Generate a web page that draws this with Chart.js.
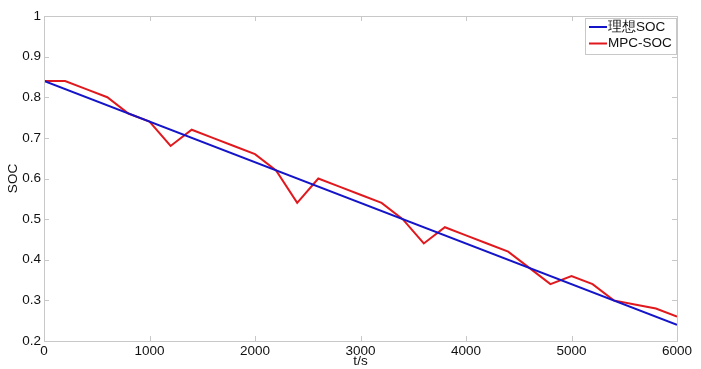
<!DOCTYPE html>
<html>
<head>
<meta charset="utf-8">
<script src="https://cdn.jsdelivr.net/npm/chart.js@4"></script>
<style>
  html, body { margin: 0; padding: 0; background: #fff; }
  #wrap { width: 701px; height: 369px; }
</style>
</head>
<body>
<div id="wrap"><canvas id="socChart" width="701" height="369"></canvas></div>
<script>
// time axis (s)
const idealTime = [0, 6000];
const idealSoc = [0.84, 0.24];

const mpcTime = [0, 200, 400, 600, 800, 1000, 1200, 1400, 1600, 1800, 2000,
    2200, 2400, 2600, 2800, 3000, 3200, 3400, 3600, 3800, 4000,
    4200, 4400, 4600, 4800, 5000, 5200, 5400, 5600, 5800, 6000];
const mpcSoc = [0.84, 0.84, 0.82, 0.80, 0.76, 0.74, 0.68, 0.72, 0.70, 0.68, 0.66,
    0.62, 0.54, 0.60, 0.58, 0.56, 0.54, 0.50, 0.44, 0.48, 0.46,
    0.44, 0.42, 0.38, 0.34, 0.36, 0.34, 0.30, 0.29, 0.28, 0.26];

const seriesLabels = ['理想SOC', 'MPC-SOC'];
const FONT = 'Liberation Sans, Arial, sans-serif';
const FSIZE = 13.5;

const toPoints = (xs, ys) => xs.map((x, i) => ({ x: x, y: ys[i] }));

// MATLAB style box with inward tick marks, plus a boxed legend
const boxPlugin = {
    id: 'box',
    afterDatasetsDraw(chart) {
        const c = chart.ctx;
        const a = chart.chartArea;
        const xs = chart.scales.x, ys = chart.scales.y;
        c.save();
        c.strokeStyle = '#c8c8c8';
        c.lineWidth = 1;
        c.strokeRect(a.left + 0.5, a.top + 0.5, a.right - a.left, a.bottom - a.top);
        c.beginPath();
        xs.ticks.forEach(t => {
            const px = Math.round(xs.getPixelForValue(t.value)) + 0.5;
            c.moveTo(px, a.bottom); c.lineTo(px, a.bottom - 5);
            c.moveTo(px, a.top); c.lineTo(px, a.top + 5);
        });
        ys.ticks.forEach(t => {
            const py = Math.round(ys.getPixelForValue(t.value)) + 0.5;
            c.moveTo(a.left, py); c.lineTo(a.left + 5, py);
            c.moveTo(a.right, py); c.lineTo(a.right - 5, py);
        });
        c.stroke();

        // legend
        const lx = 585, ly = 18, lw = 91, lh = 36;
        c.fillStyle = '#fff';
        c.fillRect(lx, ly, lw, lh);
        c.strokeStyle = '#c8c8c8';
        c.strokeRect(lx + 0.5, ly + 0.5, lw, lh);
        c.font = FSIZE + 'px ' + FONT;
        c.textBaseline = 'middle';
        chart.data.datasets.forEach((ds, i) => {
            const yy = ly + 9 + i * 16.5;
            c.strokeStyle = ds.borderColor;
            c.lineWidth = 2;
            c.beginPath();
            c.moveTo(lx + 4, yy); c.lineTo(lx + 22, yy);
            c.stroke();
            c.fillStyle = '#111';
            c.fillText(ds.label, lx + 23, yy);
        });
        c.restore();
    }
};

new Chart(document.getElementById('socChart'), {
    type: 'line',
    data: {
        datasets: [
            {
                label: seriesLabels[0],
                data: toPoints(idealTime, idealSoc),
                borderColor: '#1414c8',
                borderWidth: 2,
                pointRadius: 0,
                tension: 0
            },
            {
                label: seriesLabels[1],
                data: toPoints(mpcTime, mpcSoc),
                borderColor: '#e0191e',
                borderWidth: 2,
                pointRadius: 0,
                tension: 0
            }
        ]
    },
    options: {
        responsive: false,
        animation: false,
        layout: { padding: { top: 16, right: 24, left: 0, bottom: 0 } },
        plugins: {
            legend: { display: false },
            tooltip: { enabled: false }
        },
        scales: {
            x: {
                type: 'linear',
                min: 0,
                max: 6000,
                ticks: {
                    stepSize: 1000,
                    padding: 2,
                    color: '#111',
                    font: { family: FONT, size: FSIZE },
                    maxRotation: 0,
                    callback: v => String(v)
                },
                grid: { drawOnChartArea: false, drawTicks: false },
                border: { display: false },
                title: {
                    display: true,
                    text: 't/s',
                    color: '#111',
                    font: { family: FONT, size: FSIZE },
                    padding: { top: -3, bottom: 0 }
                },
                afterFit(scale) { scale.height = 28; }
            },
            y: {
                min: 0.2,
                max: 1,
                ticks: {
                    stepSize: 0.1,
                    padding: 3,
                    color: '#111',
                    font: { family: FONT, size: FSIZE },
                    callback: v => (Math.abs(v - 1) < 1e-9 ? '1' : v.toFixed(1))
                },
                grid: { drawOnChartArea: false, drawTicks: false },
                border: { display: false },
                title: {
                    display: true,
                    text: 'SOC',
                    color: '#111',
                    font: { family: FONT, size: FSIZE },
                    padding: { top: 5, bottom: 0 }
                },
                afterFit(scale) { scale.width = 44; }
            }
        }
    },
    plugins: [boxPlugin]
});
</script>
</body>
</html>
